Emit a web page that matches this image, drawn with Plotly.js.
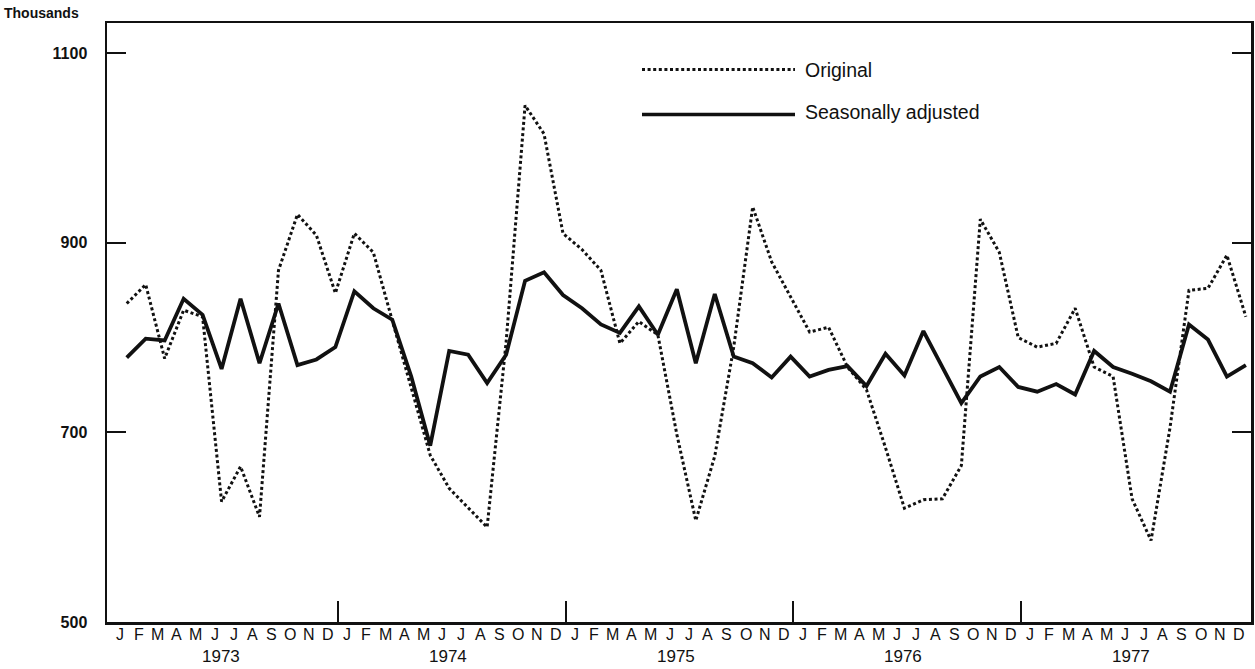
<!DOCTYPE html>
<html>
<head>
<meta charset="utf-8">
<script src="https://cdn.plot.ly/plotly-3.0.1.min.js"></script>
<style>html,body{margin:0;padding:0;background:#fff;}#chart{width:1255px;height:669px;}</style>
</head>
<body>
<div id="chart"></div>
<script>
// ---- data (thousands) ----
const monthLetters = ["J","F","M","A","M","J","J","A","S","O","N","D"];
const years = ["1973","1974","1975","1976","1977"];
const seriesNames = ["Original", "Seasonally adjusted"];
const yTickValues = [500, 700, 900, 1100];
const yAxisUnit = "Thousands";

const original = [
  836, 856, 778, 829, 822, 627, 664, 611, 871, 930, 908, 847,
  910, 890, 818, 748, 676, 641, 621, 600, 795, 1045, 1015, 910,
  893, 871, 794, 817, 803, 698, 607, 675, 790, 938, 880, 843,
  806, 811, 769, 745, 684, 620, 629, 630, 665, 925, 890, 800,
  790, 794, 831, 769, 759, 630, 586, 705, 850, 852, 887, 822
];
const adjusted = [
  779, 799, 797, 841, 824, 767, 841, 773, 836, 771, 777, 790,
  849, 831, 819, 759, 686, 786, 782, 752, 782, 860, 869, 845,
  831, 814, 805, 833, 803, 851, 773, 846, 780, 773, 758, 780,
  759, 766, 770, 749, 783, 760, 807, 768, 731, 759, 769, 748,
  743, 751, 740, 786, 769, 762, 754, 743, 814, 798, 759, 771
];

// ---- build ----
const nMonths = years.length * monthLetters.length;
const xIdx = Array.from({length: nMonths}, (_, i) => i);
const font = "Liberation Sans, Arial, Helvetica, sans-serif";

const traces = [
  {x: xIdx, y: original, type: "scatter", mode: "lines", name: seriesNames[0],
   line: {color: "#111", width: 3, dash: "3px,2.6px"}, hoverinfo: "skip"},
  {x: xIdx, y: adjusted, type: "scatter", mode: "lines", name: seriesNames[1],
   line: {color: "#111", width: 3.8}, hoverinfo: "skip"}
];

const annotations = [];
xIdx.forEach(i => {
  annotations.push({x: i - 0.37, y: 0, xref: "x", yref: "paper", yanchor: "top", xanchor: "center",
    yshift: -2, showarrow: false, text: monthLetters[i % 12], font: {family: font, size: 16, color: "#111"}});
});
years.forEach((yr, k) => {
  annotations.push({x: 4.95 + 12 * k, y: 0, xref: "x", yref: "paper", yanchor: "top", xanchor: "center",
    yshift: -23, showarrow: false, text: yr, font: {family: font, size: 17, color: "#111"}});
});
annotations.push({x: 0, y: 1, xref: "paper", yref: "paper", xanchor: "right", yanchor: "bottom",
  xshift: -26, yshift: 0, showarrow: false, text: yAxisUnit,
  font: {family: font, size: 14, color: "#111", weight: "bold"}});

// hand-drawn legend
const legX0 = (642 - 107) / 1144, legX1 = (795 - 107) / 1144, legTx = (803 - 107) / 1144;
const legY = [(622 - 69.5) / 599, (622 - 114.5) / 599];
const shapes = [
  {type: "line", xref: "paper", yref: "paper", x0: legX0, x1: legX1, y0: legY[0], y1: legY[0],
   line: {color: "#111", width: 3, dash: "3px,2.6px"}},
  {type: "line", xref: "paper", yref: "paper", x0: legX0, x1: legX1, y0: legY[1], y1: legY[1],
   line: {color: "#111", width: 3.4}}
];
seriesNames.forEach((nm, k) => {
  annotations.push({x: legTx, y: legY[k], xref: "paper", yref: "paper", xanchor: "left", yanchor: "middle",
    yshift: k === 1 ? 2 : 0, showarrow: false, text: nm, font: {family: font, size: 19.5, color: "#111"}});
});

const yearBoundaries = years.slice(1).map((_, k) => 11.15 + 12 * k);

const layout = {
  width: 1255, height: 669,
  margin: {l: 107, r: 4, t: 23, b: 47, pad: 0},
  paper_bgcolor: "#fff", plot_bgcolor: "#fff",
  showlegend: false,
  font: {family: font, color: "#111"},
  xaxis: {
    range: [-1.04, 59.27], showgrid: false, zeroline: false,
    showline: true, linecolor: "#111", linewidth: 2.5, mirror: true,
    tickmode: "array", tickvals: yearBoundaries, ticktext: yearBoundaries.map(() => ""),
    ticks: "inside", ticklen: 21, tickwidth: 2, tickcolor: "#111", showticklabels: false
  },
  yaxis: {
    range: [500, 1132], showgrid: false, zeroline: false,
    showline: true, linecolor: "#111", linewidth: 2.5, mirror: "ticks",
    tickmode: "array", tickvals: yTickValues, ticktext: yTickValues.map(String),
    ticks: "inside", ticklen: 19, tickwidth: 2, tickcolor: "#111",
    ticklabelstandoff: 14,
    tickfont: {family: font, size: 16, color: "#111", weight: "bold"}
  },
  annotations: annotations,
  shapes: shapes
};

Plotly.newPlot("chart", traces, layout, {staticPlot: true, displayModeBar: false});
</script>
</body>
</html>
